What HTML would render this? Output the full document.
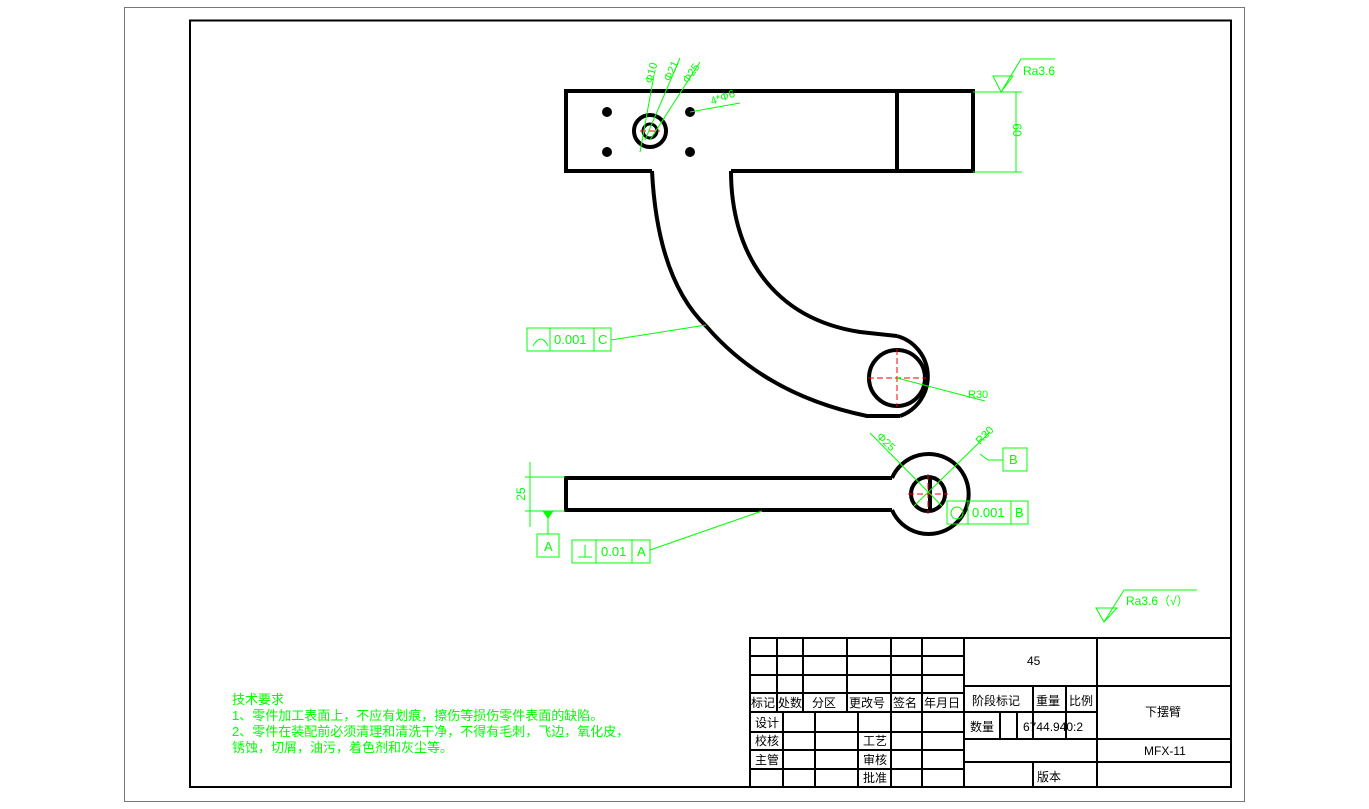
<!DOCTYPE html>
<html><head><meta charset="utf-8"><style>
html,body{margin:0;padding:0;background:#fff;}
svg{display:block;}
text{font-family:"Liberation Sans","Noto Sans CJK SC",sans-serif;}
</style></head><body>
<svg width="1369" height="809" viewBox="0 0 1369 809" xmlns="http://www.w3.org/2000/svg">
<rect x="124.5" y="7.5" width="1120" height="794" fill="none" stroke="#777" stroke-width="1"/>
<rect x="190" y="20.5" width="1041" height="766.5" fill="none" stroke="#000" stroke-width="2"/>

<!-- top view -->
<g fill="none" stroke="#000" stroke-width="4">
<path d="M652,171 H566 V91 H973 V171 H731"/>
<line x1="897" y1="91" x2="897" y2="171"/>
<path d="M652,171 C655,230 668,290 707,327 C740,365 790,400 867,416 L900,416"/>
<path d="M731,171 C731,250 770,318 860,332 L897,336"/>
<circle cx="897" cy="378" r="28"/>
<circle cx="650" cy="131" r="16"/>
<circle cx="650" cy="131" r="7" stroke-width="3"/>
</g>
<path d="M897,336 A42,42 0 0,1 900,416" fill="none" stroke="#000" stroke-width="4"/>
<g fill="#000">
<circle cx="607" cy="112" r="5"/><circle cx="690" cy="112" r="5"/>
<circle cx="607" cy="152" r="5"/><circle cx="690" cy="152" r="5"/>
</g>
<g stroke="red" stroke-width="1" stroke-dasharray="6,3">
<line x1="868" y1="378" x2="926" y2="378"/><line x1="897" y1="349" x2="897" y2="407"/>
<line x1="640" y1="131" x2="660" y2="131"/>
</g>

<!-- bottom view -->
<g fill="none" stroke="#000" stroke-width="4">
<path d="M892,478 H566 V510 H892"/>
<path d="M892,478 A40,40 0 1,1 892,510"/>
<circle cx="928" cy="494" r="17"/>
<line x1="930" y1="478" x2="930" y2="510"/>
</g>
<g stroke="red" stroke-width="1" stroke-dasharray="6,3">
<line x1="908" y1="494" x2="948" y2="494"/><line x1="928" y1="474" x2="928" y2="514"/>
</g>

<!-- green annotations -->
<g stroke="#0f0" stroke-width="1" fill="none">
<line x1="654" y1="75" x2="640" y2="152"/>
<line x1="680" y1="58" x2="645" y2="140"/>
<line x1="700" y1="62" x2="650" y2="140"/>
<line x1="740" y1="103" x2="690" y2="112"/>
<line x1="973" y1="92" x2="1022" y2="92"/><line x1="973" y1="172" x2="1022" y2="172"/>
<line x1="1016" y1="92" x2="1016" y2="172"/>
<polygon points="993,76 1013,76 1001,92"/><polyline points="1001,92 1021,59 1055,59"/>
<polygon points="1096,608 1117,608 1104,622"/><polyline points="1104,622 1124,590 1197,590"/>
<rect x="527" y="328" width="84" height="23"/><line x1="550" y1="328" x2="550" y2="351"/><line x1="594" y1="328" x2="594" y2="351"/>
<path d="M533,346 Q541,332 548,346"/>
<line x1="611" y1="340" x2="706" y2="325"/>
<line x1="897" y1="378" x2="985" y2="401"/>
<line x1="525" y1="477" x2="565" y2="477"/><line x1="525" y1="511" x2="565" y2="511"/>
<line x1="530" y1="462" x2="530" y2="527"/>
<line x1="548" y1="511" x2="548" y2="534"/><polygon points="543,511 553,511 548,518" fill="#0f0"/>
<rect x="537" y="534" width="22" height="23"/>
<rect x="572" y="540" width="78" height="23"/><line x1="596" y1="540" x2="596" y2="563"/><line x1="632" y1="540" x2="632" y2="563"/>
<line x1="578" y1="557" x2="592" y2="557"/><line x1="585" y1="545" x2="585" y2="557"/>
<line x1="650" y1="550" x2="762" y2="511"/>
<line x1="870" y1="433" x2="942" y2="506"/>
<line x1="990" y1="432" x2="914" y2="506"/>
<polyline points="980,454 988,460 1003,460"/>
<rect x="1003" y="448" width="24" height="23"/>
<rect x="947" y="501" width="81" height="23"/><line x1="968" y1="501" x2="968" y2="524"/><line x1="1011" y1="501" x2="1011" y2="524"/>
<circle cx="957" cy="513" r="6"/>
</g>
<g fill="#0f0" font-size="12">
<text x="1023" y="75">Ra3.6</text>
<text x="1126" y="605">Ra3.6（√）</text>
<text x="1013" y="130" transform="rotate(90 1013 130)" text-anchor="middle">60</text>
<text x="525" y="494" transform="rotate(-90 525 494)" text-anchor="middle">25</text>
<text x="554" y="344" font-size="13">0.001</text><text x="598" y="344" font-size="13">C</text>
<text x="544" y="551" font-size="13">A</text>
<text x="601" y="556" font-size="13">0.01</text><text x="637" y="556" font-size="13">A</text>
<text x="1009" y="464" font-size="13">B</text>
<text x="972" y="517" font-size="13">0.001</text><text x="1015" y="517" font-size="13">B</text>
<text x="968" y="398" font-size="11">R30</text>
<text x="712" y="105" font-size="11" transform="rotate(-20 712 105)">4*Φ6</text>
<text x="652" y="84" font-size="11" transform="rotate(-75 652 84)">Φ10</text>
<text x="670" y="82" font-size="11" transform="rotate(-65 670 82)">Φ21</text>
<text x="688" y="84" font-size="11" transform="rotate(-55 688 84)">Φ25</text>
<text x="876" y="437" font-size="11" transform="rotate(45 876 437)">Φ25</text>
<text x="980" y="445" font-size="11" transform="rotate(-45 980 445)">R30</text>
<g font-size="13">
<text x="232" y="704">技术要求</text>
<text x="232" y="720">1、零件加工表面上，不应有划痕，擦伤等损伤零件表面的缺陷。</text>
<text x="232" y="736">2、零件在装配前必须清理和清洗干净，不得有毛刺，飞边，氧化皮，</text>
<text x="232" y="752">锈蚀，切屑，油污，着色剂和灰尘等。</text>
</g>
</g>

<!-- title block -->
<g stroke="#000" stroke-width="2" fill="none">
<rect x="750" y="638" width="481" height="149"/>
<line x1="750" y1="656" x2="964" y2="656"/>
<line x1="750" y1="675" x2="964" y2="675"/>
<line x1="750" y1="693" x2="964" y2="693"/>
<line x1="750" y1="712" x2="964" y2="712"/>
<line x1="750" y1="732" x2="964" y2="732"/>
<line x1="750" y1="750" x2="964" y2="750"/>
<line x1="750" y1="769" x2="964" y2="769"/>
<line x1="777" y1="638" x2="777" y2="712"/>
<line x1="803" y1="638" x2="803" y2="712"/>
<line x1="847" y1="638" x2="847" y2="712"/>
<line x1="891" y1="638" x2="891" y2="787"/>
<line x1="922" y1="638" x2="922" y2="787"/>
<line x1="783" y1="712" x2="783" y2="787"/>
<line x1="815" y1="712" x2="815" y2="787"/>
<line x1="858" y1="712" x2="858" y2="787"/>
<line x1="964" y1="638" x2="964" y2="787"/>
<line x1="1097" y1="638" x2="1097" y2="787"/>
<line x1="964" y1="686" x2="1231" y2="686"/>
<line x1="964" y1="712" x2="1097" y2="712"/>
<line x1="964" y1="739" x2="1231" y2="739"/>
<line x1="964" y1="762" x2="1231" y2="762"/>
<line x1="1033" y1="686" x2="1033" y2="739"/>
<line x1="1066" y1="686" x2="1066" y2="739"/>
<line x1="1000" y1="712" x2="1000" y2="739"/>
<line x1="1017" y1="712" x2="1017" y2="739"/>
<line x1="1033" y1="762" x2="1033" y2="787"/>
</g>
<g fill="#000" font-size="12">
<text x="751" y="707">标记</text><text x="778" y="707">处数</text><text x="812" y="707">分区</text>
<text x="849" y="707">更改号</text><text x="893" y="707">签名</text><text x="924" y="707">年月日</text>
<text x="755" y="727">设计</text><text x="755" y="745">校核</text><text x="755" y="764">主管</text>
<text x="863" y="745">工艺</text><text x="863" y="764">审核</text><text x="863" y="782">批准</text>
<text x="1027" y="665">45</text>
<text x="972" y="705">阶段标记</text><text x="1036" y="705">重量</text><text x="1069" y="705">比例</text>
<text x="970" y="731">数量</text><text x="1023" y="731">6744.940:2</text>
<text x="1145" y="716">下摆臂</text>
<text x="1144" y="755">MFX-11</text>
<text x="1037" y="781">版本</text>
</g>
</svg>
</body></html>
